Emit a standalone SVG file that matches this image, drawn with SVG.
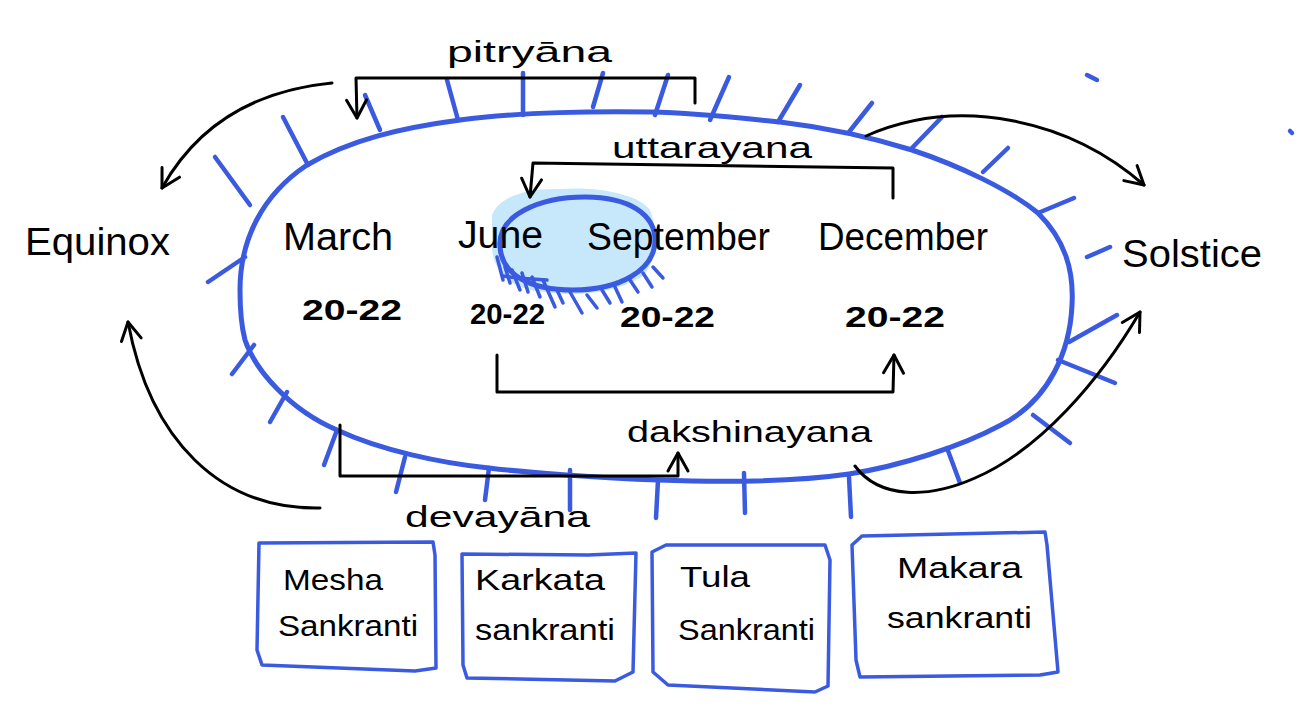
<svg xmlns="http://www.w3.org/2000/svg" width="1304" height="714" viewBox="0 0 1304 714">
<style>
.blue{fill:none;stroke:#3a5ae0;stroke-width:5;stroke-linecap:round;stroke-linejoin:round}
.tick{fill:none;stroke:#3a5ae0;stroke-width:4.5;stroke-linecap:round}
.hatch{fill:none;stroke:#3a5ae0;stroke-width:3.5;stroke-linecap:round}
.ink{fill:none;stroke:#000;stroke-width:3;stroke-linecap:round;stroke-linejoin:round}
.box{fill:#fff;stroke:#3a5ae0;stroke-width:3.5;stroke-linejoin:round}
text{font-family:"Liberation Sans",Arial,sans-serif;fill:#000}
.big{font-size:38px}
.mid{font-size:34px}
.num{font-size:30px;font-weight:bold}
.lbl{font-size:30px}
.bx{font-size:30px}
</style>
<defs>
<marker id="arr" markerUnits="userSpaceOnUse" markerWidth="26" markerHeight="26" viewBox="0 0 26 26" refX="23" refY="13" orient="auto">
<path d="M5,3 L23,13 L5,23" fill="none" stroke="#000" stroke-width="3" stroke-linecap="round" stroke-linejoin="round"/>
</marker>
</defs>
<rect width="1304" height="714" fill="#fff"/>

<g id="year-cycle">
<path class="blue" d="M240,290 C240,240 262,195 307,165 C350,140 400,128 460,120 C520,112 600,111 650,112 C700,113 740,118 780,122 C830,128 880,140 912,150 C960,166 1010,190 1038,213 C1065,240 1074,270 1072,305 C1070,350 1050,400 1001,425 C960,447 900,466 849,474 C800,481 740,483 658,480 C600,478 520,472 489,468 C440,463 380,450 337,430 C290,410 255,370 245,340 C241,325 240,305 240,290 Z"/>
<g>
<line class="tick" x1="208" y1="282" x2="245" y2="257"/>
<line class="tick" x1="215" y1="157" x2="250" y2="205"/>
<line class="tick" x1="283" y1="117" x2="308" y2="165"/>
<line class="tick" x1="365" y1="95" x2="380" y2="130"/>
<line class="tick" x1="447" y1="80" x2="458" y2="120"/>
<line class="tick" x1="523" y1="73" x2="523" y2="115"/>
<line class="tick" x1="603" y1="73" x2="593" y2="107"/>
<line class="tick" x1="668" y1="75" x2="655" y2="115"/>
<line class="tick" x1="729" y1="77" x2="710" y2="120"/>
<line class="tick" x1="800" y1="85" x2="778" y2="122"/>
<line class="tick" x1="872" y1="103" x2="849" y2="132"/>
<line class="tick" x1="942" y1="117" x2="912" y2="148"/>
<line class="tick" x1="1008" y1="148" x2="983" y2="172"/>
<line class="tick" x1="1074" y1="198" x2="1038" y2="213"/>
<line class="tick" x1="1110" y1="247" x2="1087" y2="257"/>
<line class="tick" x1="1087" y1="75" x2="1097" y2="80"/>
<line class="tick" x1="1290" y1="131" x2="1292" y2="133"/>
<line class="tick" x1="1069" y1="342" x2="1117" y2="315"/>
<line class="tick" x1="1058" y1="360" x2="1115" y2="383"/>
<line class="tick" x1="1033" y1="415" x2="1070" y2="443"/>
<line class="tick" x1="947" y1="448" x2="960" y2="483"/>
<line class="tick" x1="849" y1="477" x2="851" y2="517"/>
<line class="tick" x1="744" y1="473" x2="745" y2="513"/>
<line class="tick" x1="658" y1="480" x2="656" y2="518"/>
<line class="tick" x1="570" y1="470" x2="570" y2="510"/>
<line class="tick" x1="489" y1="468" x2="485" y2="500"/>
<line class="tick" x1="405" y1="457" x2="396" y2="492"/>
<line class="tick" x1="337" y1="430" x2="324" y2="465"/>
<line class="tick" x1="287" y1="392" x2="270" y2="422"/>
<line class="tick" x1="254" y1="345" x2="232" y2="374"/>
</g>
<text class="big" x="283" y="250" textLength="110" lengthAdjust="spacingAndGlyphs">March</text>
<text class="big" x="818" y="250" textLength="170" lengthAdjust="spacingAndGlyphs">December</text>
<text class="num" x="302" y="320" textLength="100" lengthAdjust="spacingAndGlyphs">20-22</text>
<text class="num" x="470" y="324" textLength="75" lengthAdjust="spacingAndGlyphs">20-22</text>
<text class="num" x="620" y="327" textLength="95" lengthAdjust="spacingAndGlyphs">20-22</text>
<text class="num" x="845" y="327" textLength="100" lengthAdjust="spacingAndGlyphs">20-22</text>
</g>

<g id="june-september">
<path d="M492,215 C500,195 530,188 560,189 C600,186 640,195 650,210 C660,235 655,268 640,278 C610,295 570,296 545,292 C510,290 493,270 492,248 Z" fill="#c6e8fa"/>
<path class="blue" d="M500,247 C497,215 540,197 585,197 C630,197 655,215 655,240 C655,270 620,290 573,290 C530,290 502,275 500,247 Z"/>
<g>
<line class="hatch" x1="497" y1="257" x2="503" y2="280"/>
<line class="hatch" x1="505" y1="267" x2="510" y2="283"/>
<line class="hatch" x1="512" y1="270" x2="520" y2="290"/>
<line class="hatch" x1="522" y1="273" x2="528" y2="292"/>
<line class="hatch" x1="532" y1="277" x2="540" y2="297"/>
<line class="hatch" x1="543" y1="280" x2="555" y2="307"/>
<line class="hatch" x1="557" y1="290" x2="563" y2="303"/>
<line class="hatch" x1="570" y1="292" x2="582" y2="313"/>
<line class="hatch" x1="587" y1="295" x2="597" y2="308"/>
<line class="hatch" x1="602" y1="290" x2="610" y2="303"/>
<line class="hatch" x1="615" y1="287" x2="622" y2="302"/>
<line class="hatch" x1="630" y1="280" x2="638" y2="292"/>
<line class="hatch" x1="643" y1="273" x2="652" y2="287"/>
<line class="hatch" x1="653" y1="267" x2="663" y2="278"/>
<path class="hatch" d="M503,276 C520,279 535,279 547,280"/>
</g>
<text class="big" x="458" y="248" textLength="85" lengthAdjust="spacingAndGlyphs">June</text>
<text class="big" x="587" y="250" textLength="183" lengthAdjust="spacingAndGlyphs">September</text>
</g>

<g id="equinox">
<text class="big" x="25" y="255" textLength="145" lengthAdjust="spacingAndGlyphs">Equinox</text>
</g>
<g id="solstice">
<text class="big" x="1122" y="267" textLength="140" lengthAdjust="spacingAndGlyphs">Solstice</text>
</g>

<g id="mesha">
<path class="box" d="M259,543 L433,542 L435,555 L436,668 L415,671 L262,665 L257,650 Z"/>
<text class="bx" x="283" y="590" textLength="100" lengthAdjust="spacingAndGlyphs">Mesha</text>
<text class="bx" x="278" y="636" textLength="140" lengthAdjust="spacingAndGlyphs">Sankranti</text>
</g>
<g id="karkata">
<path class="box" d="M462,554 L588,555 L636,553 L633,672 L615,681 L467,678 L463,665 Z"/>
<text class="bx" x="475" y="590" textLength="130" lengthAdjust="spacingAndGlyphs">Karkata</text>
<text class="bx" x="475" y="640" textLength="140" lengthAdjust="spacingAndGlyphs">sankranti</text>
</g>
<g id="tula">
<path class="box" d="M652,552 L666,545 L825,545 L830,560 L828,686 L815,692 L668,685 L653,672 Z"/>
<text class="bx" x="680" y="587" textLength="70" lengthAdjust="spacingAndGlyphs">Tula</text>
<text class="bx" x="678" y="640" textLength="137" lengthAdjust="spacingAndGlyphs">Sankranti</text>
</g>
<g id="makara">
<path class="box" d="M852,545 L862,536 L1045,532 L1047,545 L1058,672 L1040,675 L860,677 L856,660 Z"/>
<text class="bx" x="897" y="578" textLength="125" lengthAdjust="spacingAndGlyphs">Makara</text>
<text class="bx" x="887" y="628" textLength="145" lengthAdjust="spacingAndGlyphs">sankranti</text>
</g>

<g id="connectors">
<path class="ink" d="M332,83 C260,90 200,120 162,188" marker-end="url(#arr)"/>
<path class="ink" d="M320,508 C220,510 150,440 128,322" marker-end="url(#arr)"/>
<path class="ink" d="M866,136 C960,95 1070,120 1144,185" marker-end="url(#arr)"/>
<path class="ink" d="M855,466 C880,500 930,498 975,478 C1040,450 1100,380 1140,312" marker-end="url(#arr)"/>
<path class="ink" d="M695,103 L695,78 L356,78 L357,118" marker-end="url(#arr)"/>
<path class="ink" d="M893,198 L893,168 L533,163 L530,197" marker-end="url(#arr)"/>
<path class="ink" d="M497,355 L497,392 L893,392 L894,355" marker-end="url(#arr)"/>
<path class="ink" d="M340,425 L340,476 L678,476 L678,453" marker-end="url(#arr)"/>
<text class="lbl" x="447" y="62" textLength="165" lengthAdjust="spacingAndGlyphs">pitryāna</text>
<text class="lbl" x="612" y="158" textLength="200" lengthAdjust="spacingAndGlyphs">uttarayana</text>
<text class="lbl" x="627" y="442" textLength="245" lengthAdjust="spacingAndGlyphs">dakshinayana</text>
<text class="lbl" x="405" y="527" textLength="185" lengthAdjust="spacingAndGlyphs">devayāna</text>
</g>
</svg>
